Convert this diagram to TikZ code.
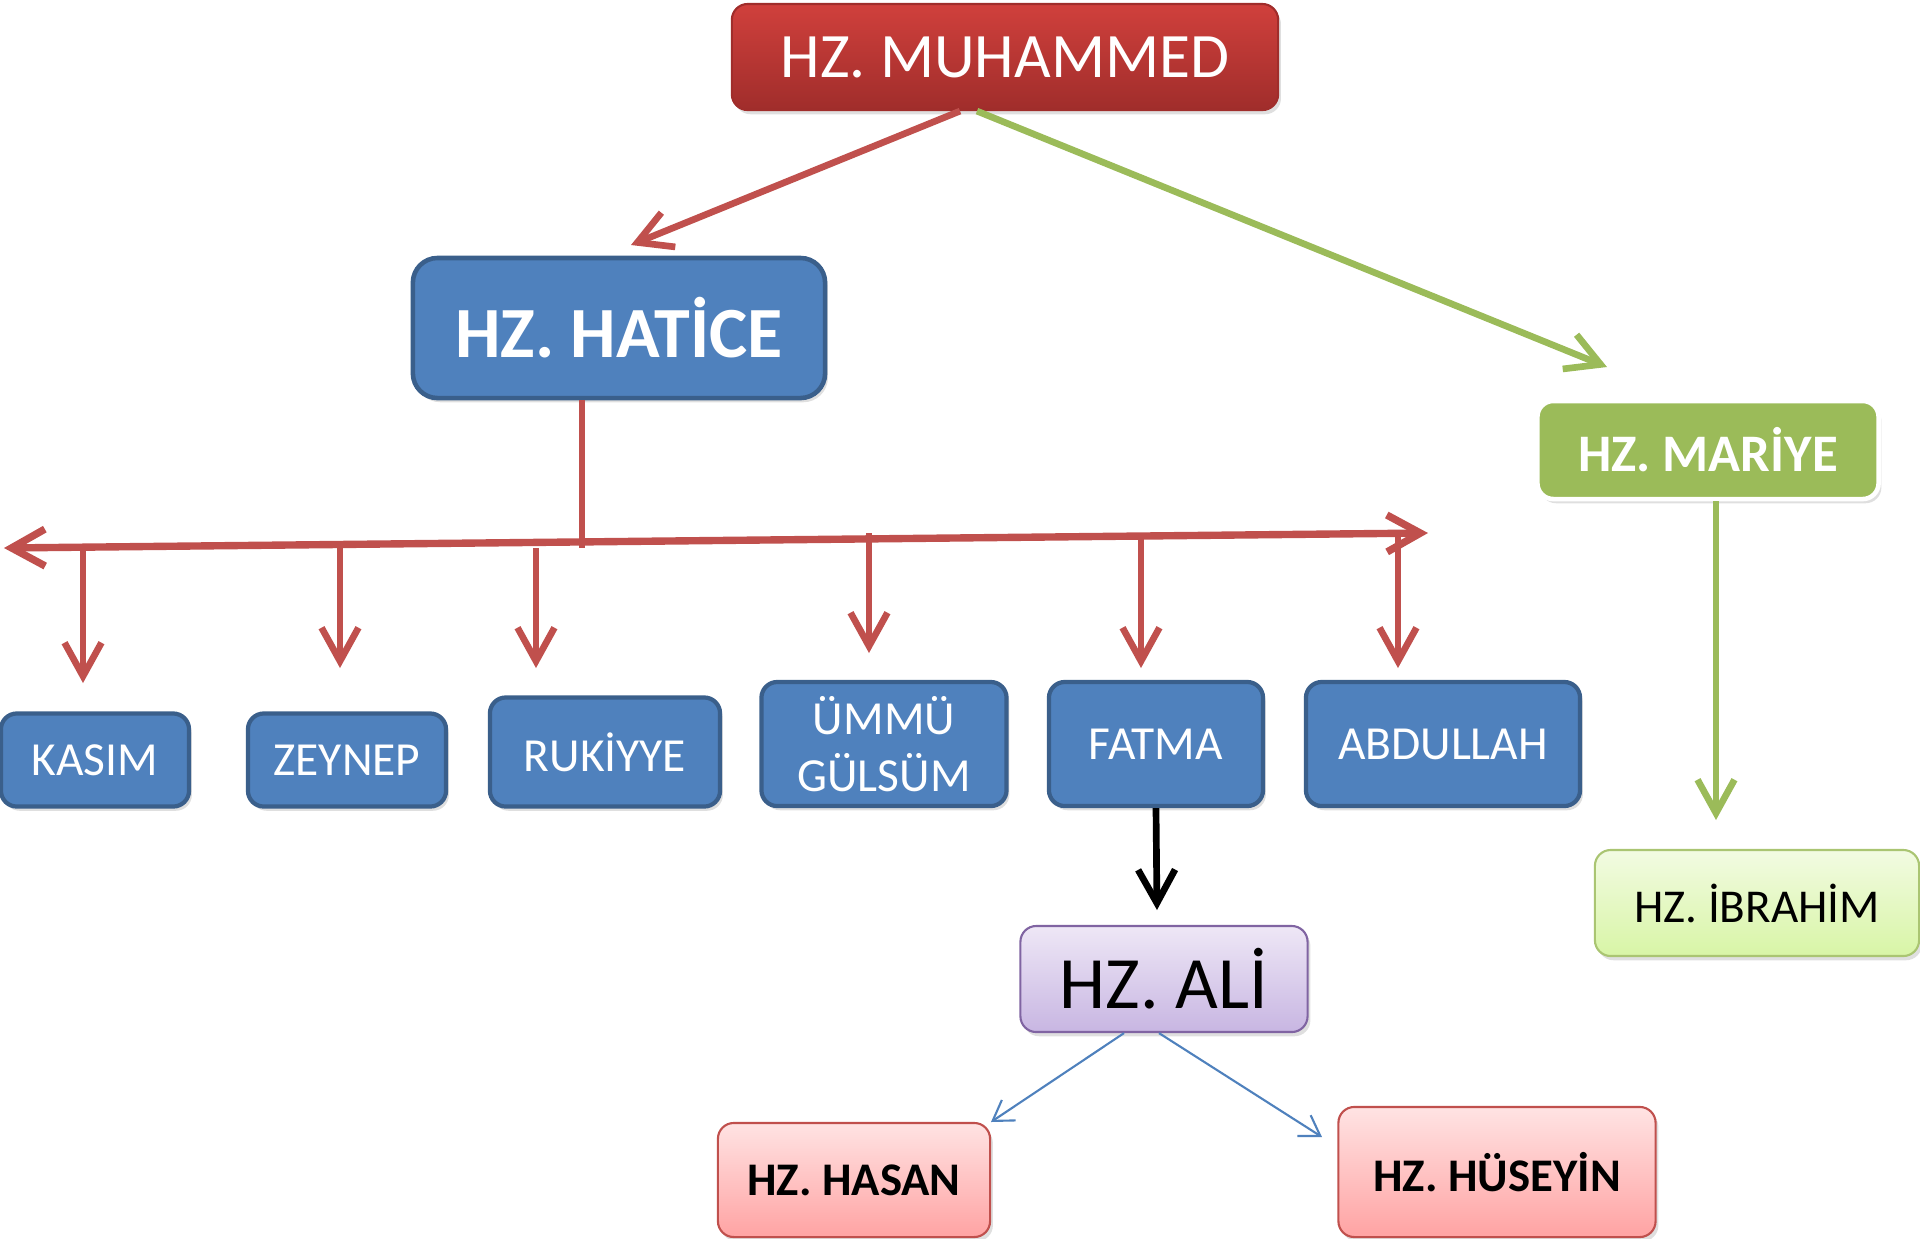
\documentclass[tikz,border=0pt]{standalone}
\usepackage{fontspec}
\setmainfont{Carlito}
\usetikzlibrary{arrows.meta,calc,shadows}

\definecolor{kirmizi}{HTML}{C0504D}
\definecolor{muhUst}{HTML}{D0403C}
\definecolor{muhAlt}{HTML}{A02D2B}
\definecolor{mavi}{HTML}{4F81BD}
\definecolor{koyumavi}{HTML}{3A5F8B}
\definecolor{yesil}{HTML}{9BBB59}
\definecolor{ibrUst}{HTML}{F2FBE2}
\definecolor{ibrAlt}{HTML}{D8F5A6}
\definecolor{aliUst}{HTML}{EEE7F6}
\definecolor{aliAlt}{HTML}{C8B6E2}
\definecolor{mor}{HTML}{8064A2}
\definecolor{pembeUst}{HTML}{FFE3E3}
\definecolor{pembeAlt}{HTML}{FFA3A3}

\tikzset{
  kutu/.style={rounded corners=4.5pt, align=center, inner sep=0pt,
    drop shadow={opacity=0.25,shadow xshift=0.8pt,shadow yshift=-1.2pt}},
  kirmizikutu/.style={kutu, top color=muhUst, bottom color=muhAlt, draw=muhAlt, line width=0.6pt,
    text=white, font=\fontsize{18}{22}\selectfont},
  mavikutu/.style={kutu, fill=mavi, draw=koyumavi, line width=1.2pt, text=white,
    font=\fontsize{13.5}{16.4}\selectfont},
  yesilkutu/.style={kutu, fill=yesil, draw=white, line width=1.3pt, text=white,
    font=\bfseries\fontsize{15}{18}\selectfont},
  acikyesilkutu/.style={kutu, top color=ibrUst, bottom color=ibrAlt, draw=yesil!85, line width=0.6pt,
    font=\fontsize{13.4}{16}\selectfont},
  morkutu/.style={kutu, top color=aliUst, bottom color=aliAlt, draw=mor, line width=0.6pt,
    font=\fontsize{21}{25}\selectfont},
  pembekutu/.style={kutu, top color=pembeUst, bottom color=pembeAlt, draw=kirmizi, line width=0.6pt,
    font=\bfseries\fontsize{13.3}{16}\selectfont},
  ucb/.tip={Straight Barb[length=9.5pt,width=10.5pt]},
  kalinok/.style={line width=1.9pt, -ucb},
  inceok/.style={draw=mavi, line width=0.6pt, -{Straight Barb[length=5.5pt,width=7pt]}},
}

\begin{document}
\begin{tikzpicture}[x=0.01cm,y=-0.01cm]
  \useasboundingbox (0,0) rectangle (1920,1238);

  % kutular
  \node[kirmizikutu, minimum width=5.46cm, minimum height=1.06cm] (muhammed) at (1005,57) {HZ. MUHAMMED};
  \node[mavikutu, rounded corners=7pt, line width=1.3pt, minimum width=4.12cm, minimum height=1.4cm,
    font=\bfseries\fontsize{20.5}{24}\selectfont] (hatice) at (619,328) {HZ. HATİCE};
  \node[yesilkutu, minimum width=3.41cm, minimum height=0.98cm] (mariye) at (1708,450) {HZ. MARİYE};

  \node[mavikutu, minimum width=1.88cm, minimum height=0.93cm] (kasim) at (95,760) {KASIM};
  \node[mavikutu, minimum width=1.98cm, minimum height=0.93cm] (zeynep) at (347,760) {ZEYNEP};
  \node[mavikutu, minimum width=2.30cm, minimum height=1.09cm] (rukiyye) at (605,752) {RUKİYYE};
  \node[mavikutu, minimum width=2.45cm, minimum height=1.24cm] (ummu) at (884,744) {ÜMMÜ\\GÜLSÜM};
  \node[mavikutu, minimum width=2.14cm, minimum height=1.24cm] (fatma) at (1156,744) {FATMA};
  \node[mavikutu, minimum width=2.74cm, minimum height=1.24cm] (abdullah) at (1443,744) {ABDULLAH};

  \node[acikyesilkutu, minimum width=3.24cm, minimum height=1.06cm] (ibrahim) at (1757,903) {HZ. İBRAHİM};
  \node[morkutu, minimum width=2.87cm, minimum height=1.06cm] (ali) at (1164,979) {HZ. ALİ};
  \node[pembekutu, minimum width=2.72cm, minimum height=1.14cm] (hasan) at (854,1180) {HZ. HASAN};
  \node[pembekutu, minimum width=3.17cm, minimum height=1.30cm] (huseyin) at (1497,1172) {HZ. HÜSEYİN};

  % uclar
  \coordinate (haticeUc) at (631,245);
  \coordinate (mariyeUc) at (1607,367);
  \coordinate (barL) at (4,548);
  \coordinate (barR) at (1428,533);
  \coordinate (ibrahimUc) at (1716,820);
  \coordinate (aliUc) at (1157,910);
  \coordinate (hasanUc) at (991,1122);
  \coordinate (huseyinUc) at (1322,1137);

  % cocuklar
  \draw[kalinok, draw=kirmizi] ($(muhammed.south)+(-45,0)$) -- (haticeUc);
  \draw[kalinok, draw=yesil] ($(muhammed.south)+(-28,0)$) -- (mariyeUc);
  \draw[line width=1.9pt, draw=kirmizi] ($(hatice.south)+(-37,0)$) -- (582,548);
  \draw[line width=2.1pt, draw=kirmizi, ucb-ucb] (barL) -- (barR);

  \foreach \x/\ust/\uc in {83/547/683, 340/544/668, 536/548/668, 869/533/653, 1141/535/668, 1398/533/668}{
    \coordinate (dUst) at (\x,\ust);
    \coordinate (dUc) at (\x,\uc);
    \draw[kalinok, draw=kirmizi] (dUst) -- (dUc);
  }

  \draw[kalinok, draw=yesil] ($(mariye.south)+(8,0)$) -- (ibrahimUc);
  \draw[kalinok, draw=black] (fatma.south) -- (aliUc);
  \draw[inceok] ($(ali.south)+(-40,0)$) -- (hasanUc);
  \draw[inceok] ($(ali.south)+(-5,0)$) -- (huseyinUc);

\end{tikzpicture}
\end{document}
